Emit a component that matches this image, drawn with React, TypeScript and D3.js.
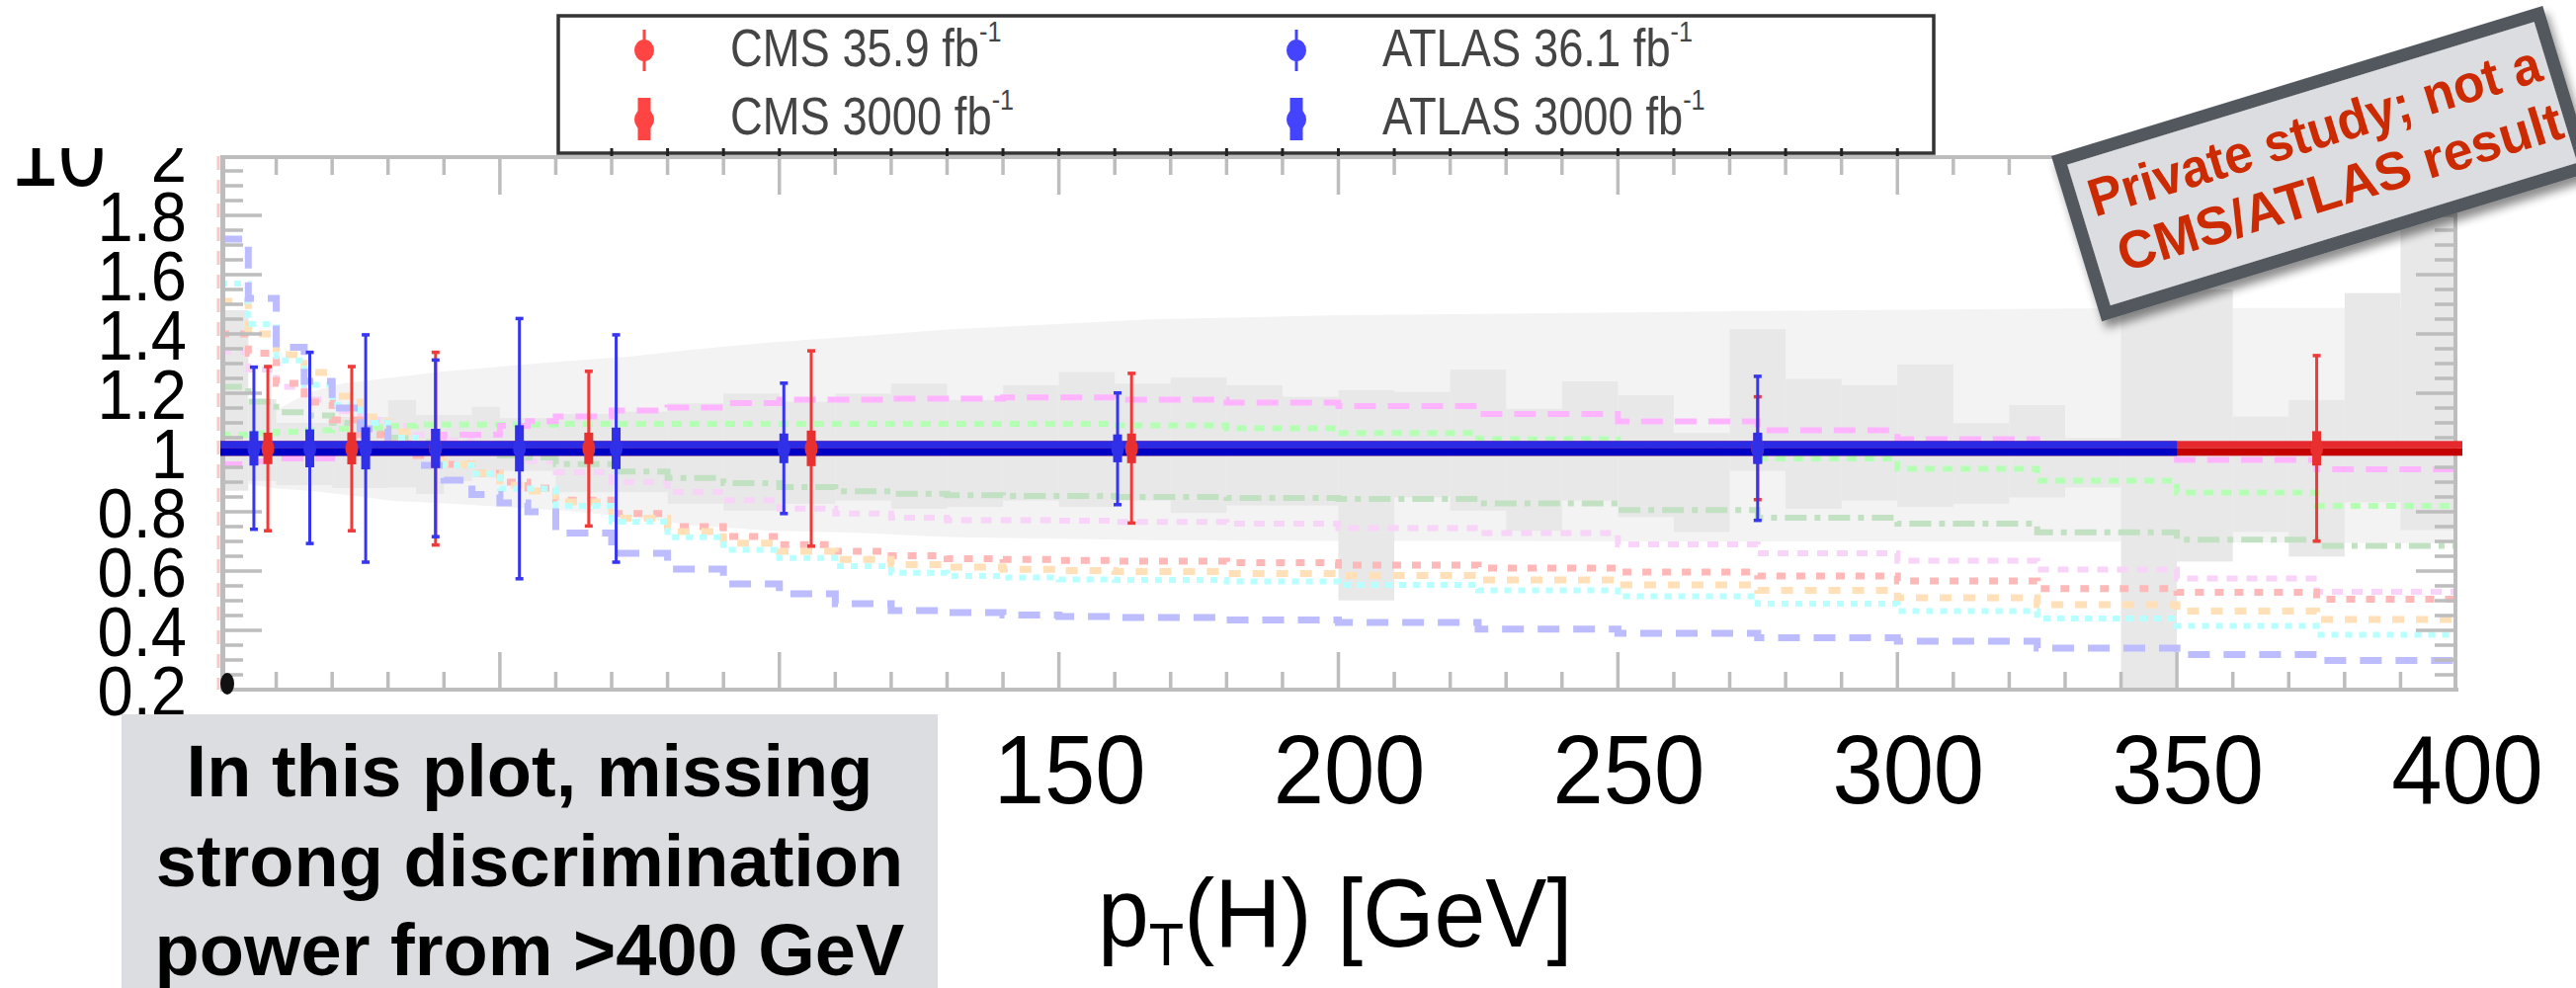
import React from 'react';
import * as d3 from 'd3';

// ---------------- data ----------------
const xTickValues = [150, 200, 250, 300, 350, 400];
const yTickValues = [0.2, 0.4, 0.6, 0.8, 1, 1.2, 1.4, 1.6, 1.8, 2];

const centralValue = 1.014;

const atlasPt = [6, 16, 26, 38.5, 53.5, 70.8, 100.8, 160.5, 275];
const atlasHi = [1.288, 1.338, 1.397, 1.312, 1.452, 1.397, 1.234, 1.201, 1.257];
const atlasLo = [0.741, 0.693, 0.63, 0.716, 0.574, 0.63, 0.794, 0.824, 0.771];
const atlas3000Err = [0.058, 0.064, 0.071, 0.066, 0.078, 0.07, 0.05, 0.047, 0.053];
const atlasEdges = [0, 10, 20, 30, 45, 60, 80, 120, 200, 350];

const cmsPt = [8.5, 23.5, 38.5, 65.9, 105.7, 163, 275, 375];
const cmsHi = [1.29, 1.29, 1.338, 1.274, 1.343, 1.267, 1.188, 1.327];
const cmsLo = [0.736, 0.736, 0.688, 0.752, 0.684, 0.762, 0.841, 0.701];
const cms3000Err = [0.053, 0.054, 0.066, 0.053, 0.06, 0.05, 0.05, 0.058];
const cmsEdges = [0, 15, 30, 45, 80, 120, 200, 350, 400];

// light theory envelope
const lightX = [5, 10, 16, 22, 31, 40, 52, 62, 73, 85, 98, 115, 130, 150, 166, 200, 243, 280, 340, 400];
const lightHi = [1.063, 1.143, 1.203, 1.233, 1.253, 1.273, 1.293, 1.308, 1.323, 1.348, 1.371, 1.393, 1.415, 1.433, 1.449, 1.463, 1.471, 1.478, 1.487, 1.488];
const lightLo = [0.893, 0.878, 0.871, 0.858, 0.837, 0.828, 0.815, 0.803, 0.783, 0.753, 0.737, 0.728, 0.715, 0.709, 0.704, 0.702, 0.701, 0.7, 0.699, 0.693];

// darker binned band
const darkEdges = [0, 5, 10, 20, 30, 35, 40, 45, 50, 60, 70, 80, 90, 100, 110, 120, 130, 140, 150, 160, 170, 180, 190, 200, 210, 220, 230, 240, 250, 260, 270, 280, 290, 300, 310, 320, 330, 340, 350, 360, 370, 380, 390, 400];
const darkHi = [1.48, 1.18, 1.1, 1.12, 1.177, 1.127, 1.127, 1.154, 1.116, 1.13, 1.138, 1.166, 1.199, 1.171, 1.199, 1.232, 1.177, 1.227, 1.271, 1.232, 1.253, 1.227, 1.188, 1.21, 1.204, 1.28, 1.147, 1.24, 1.193, 1.066, 1.416, 1.249, 1.227, 1.297, 1.099, 1.16, 1.049, 1.65, 1.55, 1.121, 1.177, 1.538, 1.92];
const darkLo = [0.871, 0.904, 0.89, 0.88, 0.882, 0.86, 0.904, 0.916, 0.938, 0.866, 0.866, 0.827, 0.804, 0.827, 0.838, 0.81, 0.816, 0.838, 0.816, 0.838, 0.796, 0.821, 0.821, 0.501, 0.849, 0.804, 0.736, 0.838, 0.782, 0.732, 0.938, 0.81, 0.838, 0.816, 0.827, 0.849, 0.882, 0.2, 0.632, 0.732, 0.649, 0.832, 0.738];

// theory variation step curves
const curveEdges = [0, 5, 10, 15, 20, 25, 30, 35, 40, 45, 50, 55, 60, 70, 80, 90, 100, 110, 120, 130, 140, 150, 160, 180, 200, 225, 250, 275, 300, 325, 350, 375, 400];
const curveLavender = [1.72, 1.52, 1.355, 1.24, 1.15, 1.08, 1.01, 0.957, 0.907, 0.858, 0.83, 0.8, 0.728, 0.66, 0.607, 0.557, 0.523, 0.49, 0.467, 0.46, 0.452, 0.447, 0.443, 0.435, 0.427, 0.404, 0.39, 0.375, 0.363, 0.34, 0.318, 0.298];
const curveCyan = [1.57, 1.433, 1.311, 1.228, 1.161, 1.1, 1.05, 1.01, 0.957, 0.928, 0.878, 0.878, 0.82, 0.767, 0.714, 0.672, 0.644, 0.617, 0.594, 0.583, 0.578, 0.572, 0.57, 0.565, 0.553, 0.535, 0.515, 0.49, 0.465, 0.44, 0.415, 0.385];
const curvePeach = [1.51, 1.4, 1.33, 1.27, 1.19, 1.12, 1.07, 1.02, 0.96, 0.93, 0.89, 0.87, 0.833, 0.778, 0.733, 0.694, 0.667, 0.639, 0.622, 0.613, 0.606, 0.602, 0.598, 0.592, 0.585, 0.57, 0.553, 0.535, 0.51, 0.487, 0.465, 0.437];
const curveSalmon = [1.4, 1.335, 1.233, 1.17, 1.11, 1.06, 1.03, 0.99, 0.96, 0.93, 0.9, 0.88, 0.839, 0.794, 0.75, 0.717, 0.689, 0.667, 0.652, 0.642, 0.639, 0.636, 0.633, 0.628, 0.62, 0.61, 0.597, 0.583, 0.567, 0.541, 0.528, 0.505];
const curveLightPink = [1.34, 1.28, 1.222, 1.178, 1.139, 1.111, 1.09, 1.06, 1.04, 1.02, 0.99, 0.972, 0.933, 0.9, 0.867, 0.839, 0.811, 0.794, 0.78, 0.772, 0.772, 0.77, 0.766, 0.76, 0.745, 0.728, 0.69, 0.66, 0.635, 0.605, 0.575, 0.53];
const curveDarkGreen = [1.222, 1.172, 1.136, 1.125, 1.1, 1.067, 1.05, 1.035, 1.02, 1.005, 0.99, 0.983, 0.961, 0.936, 0.914, 0.897, 0.883, 0.869, 0.861, 0.856, 0.853, 0.853, 0.85, 0.847, 0.843, 0.828, 0.806, 0.78, 0.76, 0.731, 0.706, 0.685];
const curveLightGreen = [1.06, 1.065, 1.07, 1.075, 1.08, 1.085, 1.09, 1.094, 1.094, 1.094, 1.094, 1.094, 1.097, 1.097, 1.097, 1.097, 1.097, 1.097, 1.097, 1.097, 1.097, 1.097, 1.092, 1.082, 1.066, 1.045, 1.015, 0.98, 0.945, 0.905, 0.865, 0.82];
const curveMagenta = [0.96, 0.97, 0.98, 0.98, 1.0, 1.0, 1.03, 1.03, 1.06, 1.06, 1.09, 1.106, 1.122, 1.142, 1.152, 1.167, 1.178, 1.178, 1.182, 1.182, 1.186, 1.186, 1.178, 1.168, 1.157, 1.13, 1.105, 1.075, 1.045, 1.01, 0.975, 0.943];

const legendTickValues = d3.range(70, 301, 10);

const infoLines = ['In this plot, missing', 'strong discrimination', 'power from >400 GeV'];
const stampLines = ['Private study; not a', 'CMS/ATLAS result'];

// ---------------- component ----------------
export default function App() {
  const x = d3.scaleLinear().domain([0, 400]).range([223, 2486]);
  const y = d3.scaleLinear().domain([0.2, 2]).range([698, 158]);
  const font = '"Liberation Sans", Arial, Helvetica, sans-serif';

  const stepLine = (vals: number[]) => {
    const pts: [number, number][] = vals.map((v, i) => [curveEdges[i], v]);
    pts.push([curveEdges[curveEdges.length - 1], vals[vals.length - 1]]);
    return (
      d3
        .line<[number, number]>()
        .x((d) => x(d[0]))
        .y((d) => y(d[1]))
        .curve(d3.curveStepAfter)(pts) || ''
    );
  };

  const lightArea =
    d3
      .area<number>()
      .x((d) => x(d))
      .y0((_d, i) => y(lightLo[i]))
      .y1((_d, i) => y(lightHi[i]))(lightX) || '';

  const curves = [
    { vals: curveLightPink, color: '#f8d4f8', w: 6, dash: '11 9' },
    { vals: curveDarkGreen, color: '#c2e0c2', w: 6, dash: '22 8 6 8' },
    { vals: curveLightGreen, color: '#b4ffb4', w: 6, dash: '10 8' },
    { vals: curveMagenta, color: '#ffb4ff', w: 6, dash: '22 12' },
    { vals: curveSalmon, color: '#ffb8b8', w: 7, dash: '9 11' },
    { vals: curvePeach, color: '#ffe0b8', w: 7, dash: '12 12' },
    { vals: curveCyan, color: '#b8ffff', w: 6, dash: '7 7' },
    { vals: curveLavender, color: '#bcbcff', w: 7, dash: '22 14' },
  ];

  const halfBand = 0.025;
  const xMinor = d3.range(10, 400, 10);
  const yMinorIdx = d3.range(5, 40);

  const thinBar = (px: number, hi: number, lo: number, color: string, key: string) => (
    <g key={key}>
      <line x1={x(px)} x2={x(px)} y1={y(hi)} y2={y(lo)} stroke={color} strokeWidth={3} />
      <rect x={x(px) - 4} y={y(hi) - 1.75} width={8} height={3.5} fill={color} />
      <rect x={x(px) - 4} y={y(lo) - 1.75} width={8} height={3.5} fill={color} />
    </g>
  );
  const thickBar = (px: number, err: number, color: string, key: string) => (
    <g key={key}>
      <rect x={x(px) - 4.5} y={y(centralValue + err)} width={9} height={y(centralValue - err) - y(centralValue + err)} fill={color} />
      <ellipse cx={x(px)} cy={y(centralValue)} rx={6.5} ry={10} fill={color} />
    </g>
  );

  const band = (edges: number[], top: string, bottom: string, extra: number, key: string) => (
    <g key={key}>
      <rect
        x={x(edges[0])}
        y={y(centralValue + halfBand)}
        width={x(edges[edges.length - 1]) - x(edges[0]) + extra}
        height={y(centralValue) - y(centralValue + halfBand)}
        fill={top}
      />
      <rect
        x={x(edges[0])}
        y={y(centralValue)}
        width={x(edges[edges.length - 1]) - x(edges[0]) + extra}
        height={y(centralValue - halfBand) - y(centralValue)}
        fill={bottom}
      />
    </g>
  );

  return (
    <svg
      width={2607}
      height={1000}
      viewBox="0 0 2607 1000"
      style={{ position: 'absolute', left: 0, top: 0, background: '#fff' }}
      fontFamily={font}
    >
      <defs>
        <clipPath id="plotClip">
          <rect x={x(0)} y={y(2)} width={x(400) - x(0)} height={y(0.2) - y(2)} />
        </clipPath>
        <clipPath id="labelClip">
          <rect x={0} y={150} width={222} height={600} />
        </clipPath>
        <filter id="stampShadow" x="-10%" y="-15%" width="125%" height="150%">
          <feDropShadow dx={2} dy={8} stdDeviation={5} floodColor="#000" floodOpacity={0.45} />
        </filter>
      </defs>
      <rect x={0} y={0} width={2607} height={1000} fill="#fff" />

      {/* bands and curves */}
      <g clipPath="url(#plotClip)">
        <path d={lightArea} fill="#f3f3f3" />
        {darkHi.map((hi, i) => (
          <rect
            key={'d' + i}
            x={x(darkEdges[i])}
            y={y(hi)}
            width={x(darkEdges[i + 1]) - x(darkEdges[i])}
            height={y(darkLo[i]) - y(hi)}
            fill="#e8e8e8"
          />
        ))}
        {curves.map((c, i) => (
          <path key={'c' + i} d={stepLine(c.vals)} fill="none" stroke={c.color} strokeWidth={c.w} strokeDasharray={c.dash} />
        ))}
      </g>
      <line x1={221} x2={221} y1={y(2)} y2={y(0.2)} stroke="#f6c8c8" strokeWidth={3} strokeDasharray="14 10" />

      {/* axes */}
      <g stroke="#bdbdbd">
        <line x1={x(0)} x2={x(400) + 2} y1={159} y2={159} strokeWidth={4} />
        <line x1={x(0)} x2={x(400) + 2} y1={698} y2={698} strokeWidth={4} />
        <line x1={225.5} x2={225.5} y1={157} y2={700} strokeWidth={5} />
        <line x1={2485} x2={2485} y1={157} y2={700} strokeWidth={4} />
        {xMinor.map((v) => {
          const len = v % 50 === 0 ? 38 : 18;
          return (
            <g key={'xt' + v}>
              <line x1={x(v)} x2={x(v)} y1={159} y2={159 + len} strokeWidth={3.5} />
              <line x1={x(v)} x2={x(v)} y1={698} y2={698 - len} strokeWidth={3.5} />
            </g>
          );
        })}
        {yMinorIdx.map((i) => {
          const v = i * 0.05;
          const len = i % 4 === 0 ? 38 : 19;
          return (
            <g key={'yt' + i}>
              <line x1={227} x2={227 + len} y1={y(v)} y2={y(v)} strokeWidth={3.5} />
              <line x1={2483} x2={2483 - len} y1={y(v)} y2={y(v)} strokeWidth={3.5} />
            </g>
          );
        })}
      </g>

      {/* measurement bands (horizontal bin extent of 3000 fb-1 points) */}
      {band(cmsEdges, '#e6292d', '#c40000', 6, 'cmsBand')}
      {band(atlasEdges, '#2b2be6', '#0000c4', 0, 'atlasBand')}

      {/* CMS points */}
      {cmsPt.map((p, i) => thinBar(p, cmsHi[i], cmsLo[i], '#f03a3a', 'ct' + i))}
      {cmsPt.map((p, i) => thickBar(p, cms3000Err[i], '#e83030', 'ck' + i))}
      {/* ATLAS points */}
      {atlasPt.map((p, i) => thinBar(p, atlasHi[i], atlasLo[i], '#3636f0', 'at' + i))}
      {atlasPt.map((p, i) => thickBar(p, atlas3000Err[i], '#3030e8', 'ak' + i))}

      <ellipse cx={230} cy={692} rx={7} ry={11} fill="#111" />

      {/* y tick labels */}
      <g clipPath="url(#labelClip)" fill="#000" fontSize={70}>
        <text transform="translate(107,188) scale(0.9,1)" textAnchor="end" fontSize={96}>
          10
        </text>
        {yTickValues.map((v) => (
          <text key={'yl' + v} transform={`translate(189,${y(v) + 26}) scale(0.93,1)`} textAnchor="end">
            {String(v)}
          </text>
        ))}
      </g>

      {/* x tick labels (0-100 hidden behind the note box in the reference) */}
      {xTickValues.map((v) => (
        <text key={'xl' + v} transform={`translate(${x(v) + 11},813) scale(0.94,1)`} textAnchor="middle" fontSize={98} fill="#000">
          {String(v)}
        </text>
      ))}

      {/* x axis title */}
      <text transform="translate(1111,958) scale(0.95,1)" fontSize={98} fill="#000">
        p<tspan fontSize={61} dy={19}>T</tspan>
        <tspan dy={-19} fontSize={98}>(H) [GeV]</tspan>
      </text>

      {/* legend */}
      <rect x={565} y={16} width={1392} height={139} fill="#fff" stroke="#333" strokeWidth={3.5} />
      {legendTickValues.map((v) => (
        <line key={'lt' + v} x1={x(v)} x2={x(v)} y1={150} y2={158} stroke="#222" strokeWidth={3} />
      ))}
      <g fill="#444" fontSize={54}>
        <text transform="translate(739,66.7) scale(0.84,1)">
          CMS 35.9 fb<tspan dy={-25} fontSize={30}>-1</tspan>
        </text>
        <text transform="translate(739,136) scale(0.84,1)">
          CMS 3000 fb<tspan dy={-25} fontSize={30}>-1</tspan>
        </text>
        <text transform="translate(1399,66.7) scale(0.84,1)">
          ATLAS 36.1 fb<tspan dy={-25} fontSize={30}>-1</tspan>
        </text>
        <text transform="translate(1399,136) scale(0.84,1)">
          ATLAS 3000 fb<tspan dy={-25} fontSize={30}>-1</tspan>
        </text>
      </g>
      <line x1={652} x2={652} y1={30} y2={72} stroke="#ff4444" strokeWidth={3} />
      <ellipse cx={652} cy={51} rx={10} ry={11} fill="#ff4444" />
      <rect x={645.5} y={99} width={13} height={43} fill="#ff4444" />
      <ellipse cx={652} cy={121} rx={10} ry={11} fill="#ff4444" />
      <line x1={1312} x2={1312} y1={30} y2={72} stroke="#4444ff" strokeWidth={3} />
      <ellipse cx={1312} cy={51} rx={10} ry={11} fill="#4444ff" />
      <rect x={1305.5} y={99} width={13} height={43} fill="#4444ff" />
      <ellipse cx={1312} cy={121} rx={10} ry={11} fill="#4444ff" />

      {/* info box */}
      <rect x={123} y={723} width={826} height={277} fill="#dcdde0" />
      {infoLines.map((t, i) => (
        <text key={'il' + i} x={536} y={806 + i * 90.5} textAnchor="middle" fontSize={74} fontWeight="bold" fill="#000">
          {t}
        </text>
      ))}

      {/* stamp */}
      <g transform="translate(2076,158) rotate(-17)">
        <rect x={6.5} y={6.5} width={507} height={162} fill="#dcdde0" stroke="#53585e" strokeWidth={13} filter="url(#stampShadow)" />
        <text x={262} y={72} textAnchor="middle" fontSize={54} fontWeight="bold" fill="#cc2a00" textLength={476} lengthAdjust="spacingAndGlyphs">
          {stampLines[0]}
        </text>
        <text x={270} y={134} textAnchor="middle" fontSize={54} fontWeight="bold" fill="#cc2a00" textLength={468} lengthAdjust="spacingAndGlyphs">
          {stampLines[1]}
        </text>
      </g>
    </svg>
  );
}
